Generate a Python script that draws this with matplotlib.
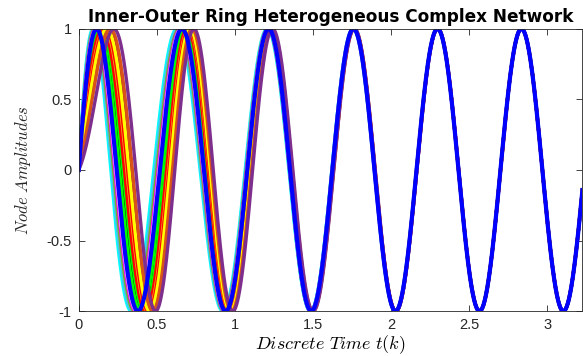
import numpy as np
import matplotlib
matplotlib.use("Agg")
import matplotlib.pyplot as plt

# common oscillation read from the converged peaks/troughs (t = 1.76, 2.30, 2.84 ...)
period = 0.537
phase_end = -0.19
settle_rate = 3.2
t_end = 3.226

# per node: line colour and initial phase-rate deviation (read from first/second peaks)
node_colors = ['#00FFFF', '#4DBEEE', '#77AC30', '#FF00FF', '#FFFFFF', '#000000',
               '#00FF00', '#00FF00', '#FF0000', '#EDB120', '#FF0000', '#A2142F',
               '#FFFF00', '#D95319', '#7E2F8E']
node_skew = [7.8, 6.8, 5.8, 4.8, 4.1, 1.0,
             1.8, -0.5, -1.5, -3.0, -3.5, -5.2,
             -4.4, -6.6, -8.8]
leader_color = '#0000FF'
leader_skew = 3.6

xticks = [0, 0.5, 1, 1.5, 2, 2.5, 3]
yticks = [-1, -0.5, 0, 0.5, 1]
yticklabels = ['-1', '-0.5', '0', '0.5', '1']

plt.rcParams['mathtext.fontset'] = 'cm'
plt.rcParams['font.family'] = ['Liberation Sans', 'DejaVu Sans']

w = 2 * np.pi / period
t = np.linspace(0, t_end, 3000)


def node_signal(skew):
    dev = (-phase_end + skew * t) * np.exp(-settle_rate * t)
    return np.sin(w * t + phase_end + dev)


fig = plt.figure(figsize=(5.83, 3.56), dpi=100)
ax = fig.add_axes([0.135, 0.126, 0.864, 0.793])

for c, s in zip(node_colors, node_skew):
    ax.plot(t, node_signal(s), color=c, lw=2.4)
ax.plot(t, node_signal(leader_skew), color=leader_color, lw=3.0)

ax.set_xlim(0, t_end)
ax.set_ylim(-1, 1)
ax.set_xticks(xticks)
ax.set_xticklabels([f'{v:g}' for v in xticks])
ax.set_yticks(yticks)
ax.set_yticklabels(yticklabels)
ax.tick_params(direction='in', length=4, width=0.6, colors='#262626',
               labelsize=10.5, top=True, right=True)
ax.tick_params(axis='x', pad=5)
ax.tick_params(axis='y', pad=5)
for sp in ax.spines.values():
    sp.set_color('#262626')
    sp.set_linewidth(0.6)

ax.set_title('Inner-Outer Ring Heterogeneous Complex Network', fontsize=12.2,
             fontweight='bold', family='DejaVu Sans', pad=5)
ax.set_xlabel(r'$Discrete\ Time\ t(k)$', fontsize=13, labelpad=0.5)
ax.set_ylabel(r'$Node\ Amplitudes$', fontsize=12, labelpad=10, color='#262626')

fig.savefig('out.png', dpi=100)
